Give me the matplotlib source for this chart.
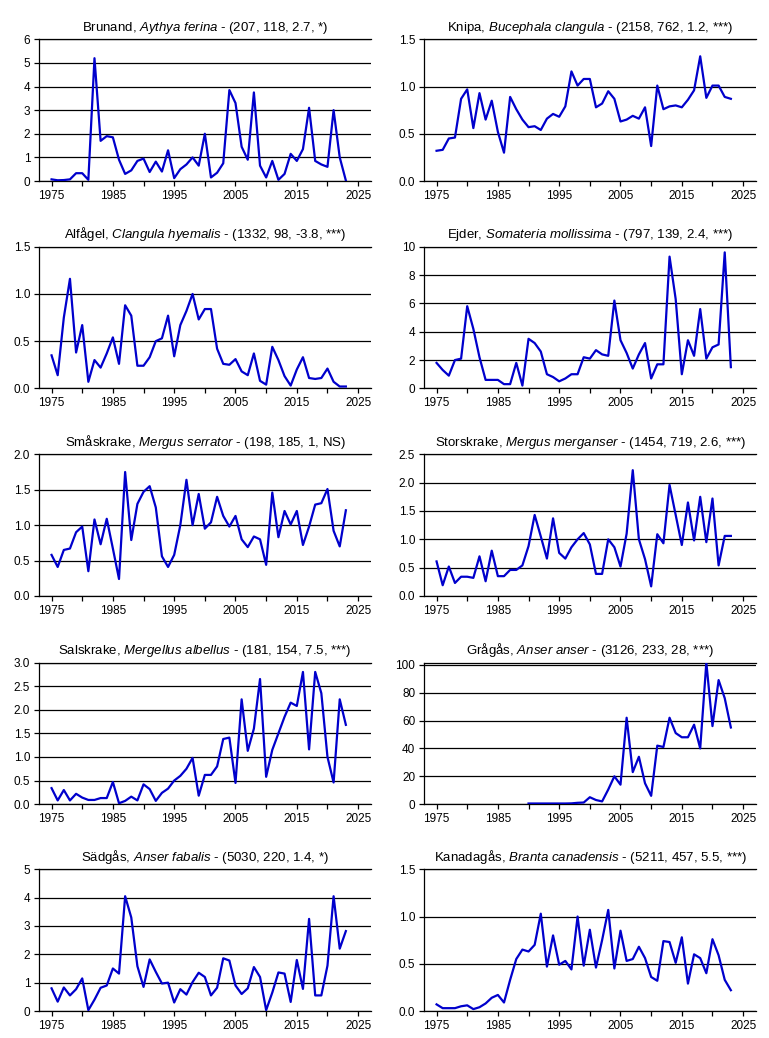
import matplotlib
matplotlib.use("Agg")
import matplotlib.pyplot as plt
import numpy as np

plt.rcParams['font.family'] = ['Liberation Sans', 'DejaVu Sans']
plt.rcParams['mathtext.fontset'] = 'custom'
plt.rcParams['mathtext.rm'] = 'Liberation Sans'
plt.rcParams['mathtext.it'] = 'Liberation Sans:italic'

years = list(range(1975, 2024))

brunand = [0.07, 0.03, 0.04, 0.07, 0.33, 0.33, 0.05, 5.2, 1.7, 1.9, 1.85, 0.9, 0.3, 0.45, 0.85,
           0.95, 0.38, 0.82, 0.4, 1.3, 0.12, 0.5, 0.7, 1.0, 0.65, 2.0, 0.15, 0.35, 0.75, 3.85,
           3.3, 1.45, 0.9, 3.75, 0.65, 0.15, 0.85, 0.05, 0.3, 1.15, 0.85, 1.35, 3.1, 0.85, 0.7,
           0.6, 3.0, 1.0, 0.02]
knipa = [0.32, 0.33, 0.45, 0.46, 0.87, 0.97, 0.56, 0.93, 0.65, 0.85, 0.52, 0.30, 0.89, 0.76, 0.65,
         0.57, 0.58, 0.54, 0.66, 0.71, 0.68, 0.79, 1.16, 1.01, 1.08, 1.08, 0.78, 0.82, 0.95, 0.87,
         0.63, 0.65, 0.69, 0.66, 0.78, 0.37, 1.01, 0.76, 0.79, 0.80, 0.78, 0.86, 0.96, 1.32, 0.88,
         1.01, 1.01, 0.89, 0.87]
alfagel = [0.35, 0.14, 0.75, 1.16, 0.38, 0.67, 0.07, 0.30, 0.22, 0.37, 0.54, 0.26, 0.88, 0.77, 0.24,
           0.24, 0.33, 0.50, 0.53, 0.77, 0.34, 0.67, 0.82, 1.00, 0.73, 0.84, 0.84, 0.42, 0.26, 0.25,
           0.31, 0.18, 0.14, 0.37, 0.08, 0.04, 0.44, 0.30, 0.13, 0.03, 0.20, 0.33, 0.11, 0.10, 0.11,
           0.21, 0.07, 0.02, 0.02]
ejder = [1.8, 1.3, 0.9, 2.0, 2.1, 5.8, 4.2, 2.2, 0.6, 0.6, 0.6, 0.3, 0.3, 1.8, 0.2,
         3.5, 3.2, 2.6, 1.0, 0.8, 0.5, 0.7, 1.0, 1.0, 2.2, 2.1, 2.7, 2.4, 2.3, 6.2,
         3.4, 2.5, 1.4, 2.4, 3.2, 0.7, 1.7, 1.7, 9.3, 6.3, 1.0, 3.4, 2.3, 5.6, 2.1,
         2.9, 3.1, 9.6, 1.5]
smaskrake = [0.58, 0.41, 0.65, 0.67, 0.90, 0.98, 0.35, 1.08, 0.73, 1.09, 0.67, 0.24, 1.75, 0.79, 1.30,
             1.47, 1.55, 1.25, 0.56, 0.41, 0.58, 1.00, 1.64, 1.00, 1.44, 0.95, 1.04, 1.40, 1.13, 0.98,
             1.13, 0.80, 0.69, 0.84, 0.80, 0.44, 1.46, 0.83, 1.20, 1.01, 1.20, 0.72, 0.98, 1.29, 1.31,
             1.51, 0.92, 0.70, 1.21]
storskrake = [0.61, 0.19, 0.52, 0.23, 0.34, 0.34, 0.32, 0.70, 0.26, 0.80, 0.35, 0.35, 0.46, 0.46, 0.54,
              0.88, 1.43, 1.05, 0.66, 1.37, 0.76, 0.66, 0.86, 1.00, 1.11, 0.91, 0.39, 0.39, 1.00, 0.86,
              0.52, 1.10, 2.22, 1.00, 0.65, 0.17, 1.09, 0.93, 1.96, 1.43, 0.90, 1.65, 0.98, 1.75, 0.95,
              1.72, 0.54, 1.06, 1.06]
salskrake = [0.34, 0.08, 0.30, 0.08, 0.22, 0.14, 0.09, 0.09, 0.13, 0.13, 0.47, 0.02, 0.07, 0.16, 0.08,
             0.42, 0.32, 0.07, 0.24, 0.33, 0.50, 0.60, 0.75, 0.98, 0.18, 0.62, 0.62, 0.80, 1.38, 1.41,
             0.45, 2.22, 1.13, 1.60, 2.65, 0.58, 1.15, 1.50, 1.85, 2.15, 2.08, 2.80, 1.16, 2.80, 2.35,
             1.00, 0.46, 2.22, 1.68]
gragas = [None] * 15 + [0.5, 0.5, 0.5, 0.5, 0.5, 0.5, 0.5, 0.6, 1.0, 1.2, 5.0, 3.0, 2.0, 10.5, 20,
          14, 62, 23, 34, 15, 6, 42, 41, 62, 51, 48, 48, 57, 40, 101.6,
          56, 89, 76, 55]
sadgas = [0.80, 0.33, 0.83, 0.55, 0.77, 1.15, 0.03, 0.40, 0.82, 0.90, 1.50, 1.32, 4.05, 3.30, 1.58,
          0.85, 1.82, 1.38, 0.97, 1.00, 0.30, 0.77, 0.58, 1.02, 1.35, 1.20, 0.55, 0.82, 1.86, 1.78,
          0.90, 0.60, 0.80, 1.55, 1.20, 0.03, 0.65, 1.36, 1.32, 0.32, 1.80, 0.78, 3.25, 0.55, 0.55,
          1.60, 4.05, 2.20, 2.82]
kanadagas = [0.07, 0.03, 0.03, 0.03, 0.05, 0.06, 0.02, 0.04, 0.08, 0.14, 0.17, 0.09, 0.33, 0.55, 0.65,
             0.63, 0.70, 1.03, 0.47, 0.80, 0.49, 0.53, 0.44, 1.00, 0.48, 0.86, 0.46, 0.75, 1.07, 0.45,
             0.85, 0.53, 0.55, 0.68, 0.56, 0.36, 0.32, 0.74, 0.73, 0.51, 0.78, 0.29, 0.60, 0.56, 0.40,
             0.76, 0.59, 0.33, 0.22]

names = ["Brunand", "Knipa", "Alfågel", "Ejder", "Småskrake", "Storskrake",
         "Salskrake", "Grågås", "Sädgås", "Kanadagås"]
latin = ["Aythya ferina", "Bucephala clangula", "Clangula hyemalis", "Somateria mollissima",
         "Mergus serrator", "Mergus merganser", "Mergellus albellus", "Anser anser",
         "Anser fabalis", "Branta canadensis"]
stats = ["(207, 118, 2.7, *)", "(2158, 762, 1.2, ***)", "(1332, 98, -3.8, ***)",
         "(797, 139, 2.4, ***)", "(198, 185, 1, NS)", "(1454, 719, 2.6, ***)",
         "(181, 154, 7.5, ***)", "(3126, 233, 28, ***)", "(5030, 220, 1.4, *)",
         "(5211, 457, 5.5, ***)"]
series = [brunand, knipa, alfagel, ejder, smaskrake, storskrake, salskrake, gragas, sadgas, kanadagas]
yticks = [[0, 1, 2, 3, 4, 5, 6], [0.0, 0.5, 1.0, 1.5], [0.0, 0.5, 1.0, 1.5], [0, 2, 4, 6, 8, 10],
          [0.0, 0.5, 1.0, 1.5, 2.0], [0.0, 0.5, 1.0, 1.5, 2.0, 2.5],
          [0.0, 0.5, 1.0, 1.5, 2.0, 2.5, 3.0], [0, 20, 40, 60, 80, 100], [0, 1, 2, 3, 4, 5],
          [0.0, 0.5, 1.0, 1.5]]
ytop = [6, 1.5, 1.5, 10, 2.0, 2.5, 3.0, 101.6, 5, 1.5]
yfmt = ["%d", "%.1f", "%.1f", "%d", "%.1f", "%.1f", "%.1f", "%d", "%d", "%.1f"]

W, H = 769, 1038
fig = plt.figure(figsize=(W / 100, H / 100), dpi=100)

lefts = [39.3, 424.3]
aw = 331.7
tops = [39.3, 246.7, 454.3, 662.5, 869.3]
ah = 141.7

for i in range(10):
    r, c = divmod(i, 2)
    ax = fig.add_axes([lefts[c] / W, 1 - (tops[r] + ah) / H, aw / W, ah / H])
    y = np.array([np.nan if v is None else v for v in series[i]], dtype=float)
    ax.plot(years, y, color='#0000CC', lw=1.6, zorder=3)
    ax.set_xlim(1973.0, 2027.1)
    ax.set_ylim(0, ytop[i])
    ax.set_xticks(range(1975, 2026, 5))
    ax.set_xticklabels([str(v) if (v - 1975) % 10 == 0 else "" for v in range(1975, 2026, 5)])
    ax.set_yticks(yticks[i])
    ax.set_yticklabels([yfmt[i] % v for v in yticks[i]])
    for v in yticks[i]:
        ax.axhline(v, color='black', lw=0.9, zorder=1)
    ax.spines['right'].set_visible(False)
    for s in ['left', 'bottom', 'top']:
        ax.spines[s].set_linewidth(0.9)
    ax.tick_params(axis='both', direction='out', length=3.5, width=0.9, labelsize=8.5, pad=3,
                   colors='black')
    lat = latin[i].replace(" ", r"\ ")
    ax.set_title(names[i] + r", $\mathit{" + lat + "}$ - " + stats[i], fontsize=9.5, pad=6)

fig.savefig("out.png", dpi=100, facecolor='white')
